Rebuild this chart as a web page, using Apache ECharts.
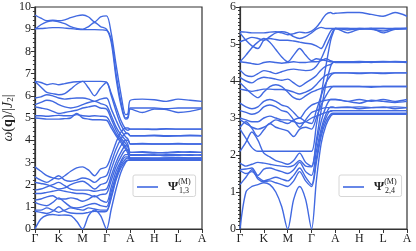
<!DOCTYPE html>
<html><head><meta charset="utf-8">
<script src="https://cdn.jsdelivr.net/npm/echarts@6/dist/echarts.min.js"></script>
<style>html,body{margin:0;padding:0;background:#fff}#c{width:416px;height:251px}</style>
</head><body><div id="c"></div>
<script>
// k-path sample positions (Γ=0, K=1, M=2, Γ=3, A=4, H=5, L=6, A=7)
const X = [0,0.25,0.5,0.75,1,1.25,1.5,1.75,2,2.25,2.5,2.75,3,3.2,3.4,3.6,3.8,3.9,4,4.5,5,5.5,6,6.5,7];
const xTickLabels = ['Γ','K','M','Γ','A','H','L','A'];
const legendLeft = 'Ψ13';
const legendRight = 'Ψ24';
const subLeft = '1,3';
const subRight = '2,4';

// Left panel bands (Ψ_{1,3})
const lT1 = [9.64,9.5,9.38,9.4,9.38,9.42,9.52,9.6,9.64,9.55,9.33,9.55,9.6, 8.8,7.4,6.1,5.15,5.2,5.8, 5.85,5.82,5.75,5.85,5.8,5.75];
const lT2 = [9.0,9.2,9.33,9.38,9.33,9.25,9.12,9.04,9.0,9.12,9.3,9.12,9.0, 8.55,7.0,5.75,5.0,5.05,5.45, 5.45,5.45,5.42,5.45,5.45,5.45];
const lT3 = [9.02,9.03,9.05,9.07,9.07,9.05,9.03,9.0,8.98,8.98,8.98,8.97,8.95, 8.4,6.8,5.6,4.95,5.0,5.4, 5.25,5.4,5.38,5.25,5.3,5.42];
const lM1 = [6.65,6.6,6.5,6.55,6.5,6.55,6.6,6.63,6.65,6.65,6.65,6.65,6.62, 6.1,5.5,4.9,4.5,4.45,4.5, 4.5,4.5,4.52,4.5,4.5,4.5];
const lM2 = [6.65,6.4,6.15,6.1,6.05,6.1,6.3,6.52,6.65,6.35,6.0,6.35,6.6, 6.0,5.3,4.7,4.35,4.3,4.2, 4.2,4.22,4.2,4.2,4.22,4.2];
const lM3 = [5.9,5.95,6.05,6.0,5.9,5.85,5.88,5.9,5.9,5.85,5.75,5.85,5.9, 5.4,4.9,4.45,4.15,4.05,3.83, 3.83,3.83,3.83,3.83,3.83,3.83];
const lM4 = [5.6,5.7,5.8,5.75,5.6,5.5,5.45,5.5,5.6,5.7,5.75,5.65,5.55, 5.1,4.6,4.25,4.0,3.8,3.45, 3.45,3.42,3.45,3.48,3.45,3.45];
const lM5 = [5.5,5.45,5.4,5.3,5.2,5.25,5.3,5.35,5.45,5.5,5.55,5.45,5.4, 4.95,4.45,4.1,3.85,3.7,3.32, 3.32,3.35,3.3,3.32,3.35,3.32];
const lM6 = [5.1,5.1,5.08,5.1,5.12,5.1,5.1,5.15,5.1,5.08,5.1,5.08,5.05, 4.7,4.3,4.0,3.7,3.5,3.2, 3.2,3.18,3.2,3.22,3.2,3.2];
const lM7 = [5.0,4.98,4.95,4.95,4.95,4.97,5.0,5.2,5.0,4.95,4.92,4.92,4.9, 4.55,4.2,3.9,3.6,3.4,3.15, 3.15,3.15,3.13,3.15,3.15,3.15];
const lB1 = [2.8,2.6,2.4,2.3,2.25,2.4,2.6,2.75,2.8,2.65,2.4,2.7,2.8, 3.3,3.9,4.35,4.55,4.55,4.5, 4.5,4.48,4.5,4.5,4.5,4.5];
const lB2 = [2.35,2.2,2.1,2.25,2.4,2.2,2.15,2.2,2.3,2.25,2.1,2.3,2.4, 3.0,3.6,4.05,4.3,4.3,4.2, 4.2,4.2,4.18,4.2,4.2,4.2];
const lB3 = [2.1,2.05,2.0,1.9,1.8,1.85,2.0,2.1,2.15,2.0,1.8,2.0,2.1, 2.7,3.3,3.75,4.0,4.0,3.83, 3.85,3.83,3.83,3.85,3.83,3.83];
const lB4 = [1.75,1.8,1.9,2.0,2.1,1.95,1.8,1.75,1.75,1.75,1.7,1.75,1.8, 2.4,3.0,3.45,3.75,3.7,3.45, 3.48,3.45,3.42,3.45,3.48,3.45];
const lB5 = [1.6,1.6,1.65,1.7,1.75,1.7,1.65,1.6,1.6,1.55,1.45,1.55,1.6, 2.2,2.8,3.25,3.55,3.55,3.35, 3.35,3.32,3.35,3.35,3.32,3.35];
const lB6 = [1.3,1.35,1.45,1.5,1.35,1.35,1.4,1.35,1.25,1.35,1.5,1.3,1.2, 1.9,2.6,3.05,3.35,3.35,3.2, 3.2,3.2,3.2,3.2,3.2,3.2];
const lB7 = [1.2,1.1,1.05,1.2,1.4,1.2,1.0,0.95,1.0,1.1,1.15,1.05,1.0, 1.7,2.4,2.95,3.25,3.25,3.15, 3.13,3.15,3.15,3.13,3.15,3.15];
const lB8 = [0.85,0.85,0.95,0.85,0.75,0.85,0.95,0.9,0.85,0.95,0.9,0.85,0.85, 1.5,2.3,2.85,3.15,3.2,3.12, 3.12,3.1,3.12,3.12,3.1,3.12];
const lB9 = [0.8,0.75,0.7,0.8,1.0,0.8,0.72,0.7,0.7,0.75,0.8,0.78,0.8, 1.4,2.2,2.75,3.05,3.1,3.1, 3.1,3.1,3.1,3.1,3.1,3.1];
const lB10 = [0,0.45,0.62,0.65,0.62,0.63,0.6,0.35,0,0.6,0.85,0.6,0, 0.9,1.8,2.55,3.0,3.1,3.1, 3.1,3.1,3.1,3.1,3.1,3.1];

// Right panel bands (Ψ_{2,4})
const rU1 = [5.33,5.32,5.3,5.3,5.3,5.32,5.33,5.3,5.25,5.28,5.32,5.3,5.35, 5.45,5.62,5.8,5.85,5.82,5.83, 5.85,5.85,5.8,5.75,5.85,5.75];
const rU2 = [5.3,5.1,4.95,4.88,5.1,5.15,5.12,5.1,5.1,5.08,5.05,5.02,5.0, 4.95,4.88,5.1,5.35,5.4,5.42, 5.42,5.42,5.42,5.42,5.42,5.42];
const rU3 = [5.06,5.12,5.18,5.15,5.1,5.2,5.3,5.33,5.3,5.2,5.15,5.2,5.3, 5.4,5.45,5.42,5.42,5.42,5.42, 5.3,5.4,5.42,5.3,5.4,5.42];
const rU4 = [4.52,4.7,4.9,5.05,5.15,5.05,4.85,4.65,4.52,4.7,4.88,4.7,4.55, 4.6,4.58,4.55,4.52,4.52,4.52, 4.52,4.52,4.52,4.52,4.52,4.52];
const rU5 = [4.52,4.5,4.47,4.45,4.5,4.52,4.5,4.48,4.5,4.52,4.5,4.5,4.52, 4.52,4.55,4.6,4.55,4.52,4.5, 4.5,4.5,4.52,4.53,4.52,4.5];
const rM1 = [4.3,4.15,4.12,4.2,4.28,4.25,4.2,4.25,4.3,4.32,4.3,4.28,4.3, 4.4,4.6,4.9,5.2,5.35,5.42, 5.38,5.42,5.4,5.35,5.42,5.42];
const rM2 = [4.1,4.0,3.95,4.05,4.1,4.08,4.05,4.02,4.05,3.95,3.85,3.95,4.05, 4.15,4.3,4.4,4.45,4.5,4.52, 4.52,4.53,4.52,4.52,4.53,4.52];
const rM3 = [3.78,3.75,3.72,3.75,3.78,3.78,3.77,3.77,3.75,3.7,3.65,3.7,3.78, 3.9,4.05,4.15,4.2,4.22,4.22, 4.22,4.2,4.22,4.2,4.22,4.22];
const rM4 = [3.95,3.8,3.65,3.55,3.7,3.85,3.9,3.85,3.7,3.55,3.5,3.6,3.7, 3.75,3.8,3.83,3.85,3.85,3.85, 3.85,3.85,3.83,3.85,3.85,3.85];
const rM5 = [3.4,3.3,3.25,3.3,3.45,3.5,3.45,3.35,3.3,3.15,3.0,3.2,3.35, 3.4,3.45,3.48,3.5,3.5,3.5, 3.45,3.5,3.45,3.5,3.45,3.5];
const rM6 = [3.2,3.15,3.1,3.15,3.3,3.35,3.3,3.2,3.15,2.95,2.75,2.95,3.15, 3.2,3.25,3.28,3.28,3.28,3.28, 3.3,3.25,3.28,3.3,3.25,3.28];
const rM7 = [3.0,2.95,2.9,2.9,3.0,3.05,3.0,2.95,2.95,2.9,2.85,2.9,3.0, 3.05,3.1,3.15,3.18,3.2,3.2, 3.2,3.2,3.2,3.2,3.2,3.2];
const rL1 = [2.7,2.45,2.2,2.1,2.1,2.1,2.1,2.1,2.1,2.1,2.1,2.1,2.1, 2.8,3.6,4.4,5.1,5.3,5.42, 5.42,5.4,5.42,5.42,5.4,5.42];
const rL2 = [2.1,2.35,2.62,2.4,2.05,1.95,1.85,1.8,1.75,1.85,2.05,1.8,1.7, 2.4,3.2,3.9,4.4,4.5,4.52, 4.52,4.52,4.5,4.52,4.52,4.52];
const rL3 = [2.95,2.85,2.75,2.7,2.75,2.85,2.95,2.9,2.85,2.95,3.0,2.9,2.85, 3.2,3.6,3.95,4.15,4.2,4.22, 4.22,4.22,4.22,4.22,4.22,4.22];
const rL4 = [2.75,2.9,2.72,2.5,2.68,2.85,2.75,2.7,2.65,2.5,2.7,2.75,2.7, 3.0,3.35,3.6,3.8,3.85,3.85, 3.85,3.85,3.85,3.85,3.85,3.85];
const rL5 = [1.78,1.7,1.75,1.8,1.78,1.75,1.72,1.7,1.68,1.72,1.85,1.7,1.68, 2.3,2.9,3.3,3.5,3.5,3.5, 3.45,3.4,3.48,3.45,3.42,3.45];
const rL6 = [1.6,1.62,1.65,1.45,1.62,1.65,1.6,1.55,1.5,1.6,1.8,1.55,1.45, 2.1,2.7,3.1,3.3,3.3,3.28, 3.28,3.3,3.28,3.28,3.3,3.28];
const rL7 = [1.58,1.5,1.55,1.4,1.3,1.35,1.4,1.35,1.3,1.45,1.65,1.4,1.2, 1.9,2.6,3.0,3.2,3.2,3.2, 3.2,3.2,3.2,3.2,3.2,3.2];
const rL8 = [1.2,1.4,1.6,1.35,1.28,1.3,1.25,1.2,1.15,1.3,1.55,1.3,1.15, 1.8,2.5,2.9,3.1,3.13,3.13, 3.13,3.13,3.13,3.13,3.13,3.13];
const rL9 = [0,1.0,1.15,1.2,1.25,1.2,1.0,0.6,0,0.8,1.15,0.8,0, 1.3,2.3,2.8,3.05,3.1,3.1, 3.1,3.1,3.1,3.1,3.1,3.1];

const leftBands = [lT1,lT2,lT3,lM1,lM2,lM3,lM4,lM5,lM6,lM7,lB1,lB2,lB3,lB4,lB5,lB6,lB7,lB8,lB9,lB10];
const rightBands = [rU1,rU2,rU3,rU4,rU5,rM1,rM2,rM3,rM4,rM5,rM6,rM7,rL1,rL2,rL3,rL4,rL5,rL6,rL7,rL8,rL9];

const COLOR = '#4169e1';
const AXC = '#333';
const FONT = 'Liberation Serif';

function mk(b, idx, name) {
  return {type:'line', name:name, xAxisIndex:idx, yAxisIndex:idx,
    data: X.map((x,i)=>[x,b[i]]), smooth:0.3, symbol:'none', showSymbol:false,
    lineStyle:{color:COLOR, width:1.4}, itemStyle:{color:COLOR},
    silent:true, clip:true};
}
function xAx(g) {
  return {gridIndex:g, type:'value', min:0, max:7, interval:1,
    axisLine:{show:true, onZero:false, lineStyle:{color:AXC, width:1.2}},
    axisTick:{show:true, length:4, lineStyle:{color:AXC}},
    splitLine:{show:false},
    axisLabel:{color:'#222', fontFamily:FONT, fontSize:12, margin:4, formatter:v=>xTickLabels[Math.round(v)]}};
}
function yAx(g, max, minorSplit) {
  return {gridIndex:g, type:'value', min:0, max:max, interval:1,
    axisLine:{show:true, onZero:false, lineStyle:{color:AXC, width:1.2}},
    axisTick:{show:true, length:4, lineStyle:{color:AXC}},
    minorTick:{show:true, splitNumber:minorSplit, length:2, lineStyle:{color:AXC}},
    splitLine:{show:false}, minorSplitLine:{show:false},
    axisLabel:{color:'#222', fontFamily:FONT, fontSize:12, margin:4}};
}
const richLegend = {
  p:{fontFamily:FONT, fontSize:13, fontWeight:'bold', color:'#222', padding:[0,0,0,5], lineHeight:18, verticalAlign:'middle'},
  s:{fontFamily:FONT, fontSize:8, color:'#222', lineHeight:10, verticalAlign:'top', padding:[0,2,0,0]}
};
function lg(name, left) {
  return {data:[{name:name, icon:'rect'}], left:left, top:175, itemWidth:21, itemHeight:1.6,
    padding:[3,3,3,4], backgroundColor:'#fff', borderColor:'#d6d6d6', borderWidth:1, borderRadius:2,
    selectedMode:false, formatter:()=>'{p|Ψ}{s|(M)}', textStyle:{rich:richLegend},
    itemStyle:{color:COLOR}};
}

const yL = yAx(0, 10, 5);
yL.name = '{i|ω}({b|q})/|{i|J}{sub|2}|';
yL.nameLocation = 'middle';
yL.nameGap = 18;
yL.nameTextStyle = {fontFamily:FONT, fontSize:14, color:'#222',
  rich:{i:{fontFamily:FONT, fontSize:14, fontStyle:'italic', color:'#222'},
        b:{fontFamily:FONT, fontSize:14, fontWeight:'bold', color:'#222'},
        sub:{fontFamily:FONT, fontSize:9, color:'#222', verticalAlign:'bottom', padding:[5,0,0,0]}}};

const option = {
  animation:false,
  backgroundColor:'#fff',
  grid:[
    {left:34, top:7, width:168, height:222, show:true, borderColor:AXC, borderWidth:1.2, backgroundColor:'transparent'},
    {left:240, top:7, width:167, height:222, show:true, borderColor:AXC, borderWidth:1.2, backgroundColor:'transparent'}
  ],
  xAxis:[xAx(0), xAx(1)],
  yAxis:[yL, yAx(1, 6, 10)],
  legend:[lg(legendLeft, 133), lg(legendRight, 339)],
  graphic:[
    {type:'text', z:200, zlevel:1, left:179, top:187, style:{text:subLeft, font:'8px "Liberation Serif"', fill:'#222'}},
    {type:'text', z:200, zlevel:1, left:385, top:187, style:{text:subRight, font:'8px "Liberation Serif"', fill:'#222'}}
  ],
  series: leftBands.map(b=>mk(b,0,legendLeft)).concat(rightBands.map(b=>mk(b,1,legendRight)))
};
const chart = echarts.init(document.getElementById('c'), null, {renderer:'canvas'});
chart.setOption(option);
</script>
</body></html>
